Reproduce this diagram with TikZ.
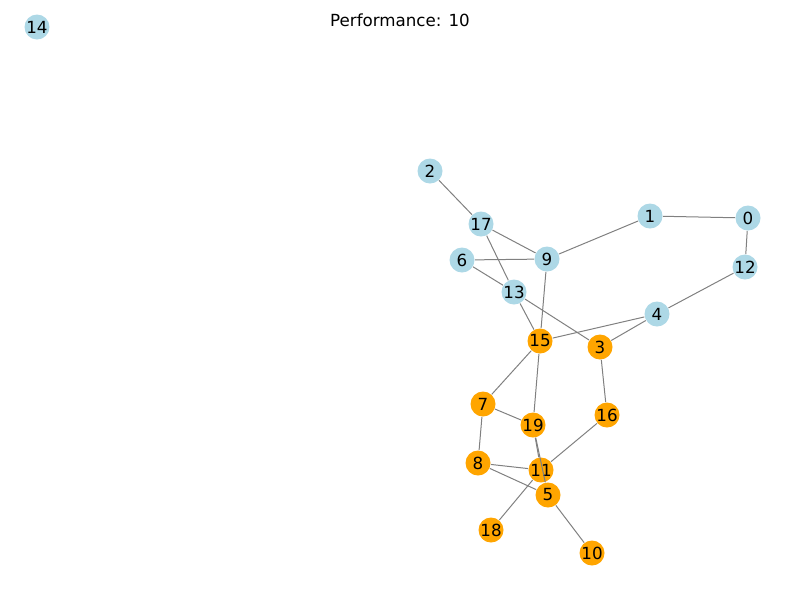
\documentclass[tikz,border=0pt]{standalone}
\usepackage{fontspec}
\setmainfont{DejaVu Sans}
\definecolor{lblue}{RGB}{173,216,230}
\definecolor{orng}{RGB}{255,165,0}
\begin{document}
\begin{tikzpicture}[x=0.02cm,y=-0.02cm,-,line width=0.02cm,font=\fontsize{9.5}{11}\selectfont]
	\tikzstyle{nd}=[circle,draw=none,text=black,minimum size=0.5cm,inner sep=0pt]
	\tikzstyle{LB}=[nd,fill=lblue] % LB = light blue node
	\tikzstyle{OR}=[nd,fill=orng]  % OR = orange node
	\useasboundingbox (0,0) rectangle (800,600);
	\node(title) at (400,20) {Performance: 10};
	% blue nodes
	\node(14)[LB] at (37,27) {14};
	\node(2)[LB] at (430,171) {2};
	\node(17)[LB] at (481,224) {17};
	\node(1)[LB] at (650,216) {1};
	\node(0)[LB] at (748,218) {0};
	\node(9)[LB] at (547,259) {9};
	\node(6)[LB] at (462,260) {6};
	\node(12)[LB] at (745,267) {12};
	\node(13)[LB] at (514,292) {13};
	\node(4)[LB] at (657,314) {4};
	% orange nodes
	\node(15)[OR] at (540,341) {15};
	\node(3)[OR] at (600,347) {3};
	\node(7)[OR] at (483,404) {7};
	\node(16)[OR] at (607,415) {16};
	\node(19)[OR] at (533,425) {19};
	\node(8)[OR] at (478,463) {8};
	\node(11)[OR] at (541,470) {11};
	\node(5)[OR] at (548,495) {5};
	\node(18)[OR] at (491,530) {18};
	\node(10)[OR] at (592,553) {10};
	% edges
	\tikzstyle{col}=[gray]
	\draw[col](2)--(17);
	\draw[col](17)--(9);
	\draw[col](17)--(13);
	\draw[col](13)--(15);
	\draw[col](6)--(9);
	\draw[col](6)--(13);
	\draw[col](1)--(9);
	\draw[col](1)--(0);
	\draw[col](0)--(12);
	\draw[col](12)--(4);
	\draw[col](4)--(15);
	\draw[col](4)--(3);
	\draw[col](13)--(3);
	\draw[col](9)--(15);
	\draw[col](15)--(19);
	\draw[col](15)--(7);
	\draw[col](3)--(16);
	\draw[col](16)--(11);
	\draw[col](7)--(19);
	\draw[col](7)--(8);
	\draw[col](19)--(11);
	\draw[col](19)--(5);
	\draw[col](8)--(11);
	\draw[col](8)--(5);
	\draw[col](11)--(18);
	\draw[col](5)--(10);
\end{tikzpicture}
\end{document}
